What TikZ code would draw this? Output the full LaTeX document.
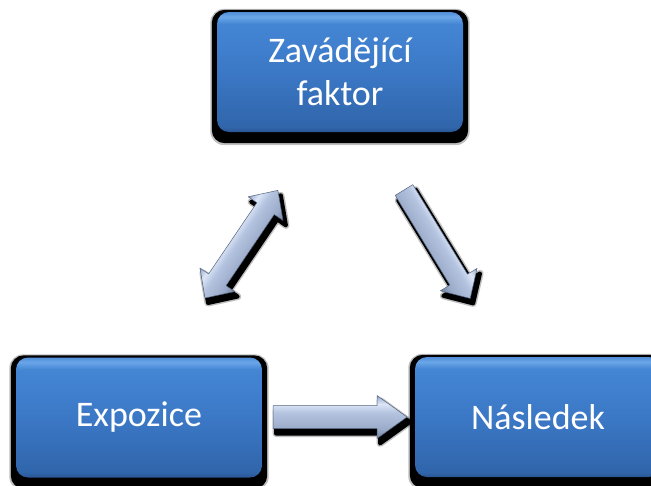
\documentclass[tikz,border=0pt]{standalone}
\usepackage{fontspec}
\setmainfont{Carlito}
\usetikzlibrary{calc}
\definecolor{bf1}{HTML}{2A5592}
\definecolor{bf2}{HTML}{3065AA}
\definecolor{bf3}{HTML}{3B78C6}
\definecolor{bf4}{HTML}{4486D4}
\definecolor{bf5}{HTML}{6AA6E8}
\definecolor{bf6}{HTML}{4F8DD8}
\definecolor{af1}{HTML}{7283A2}
\definecolor{af2}{HTML}{9AABC9}
\definecolor{af3}{HTML}{B4C3DF}
\definecolor{af4}{HTML}{DCE6F7}
\definecolor{af5}{HTML}{B3C2DD}
\definecolor{af6}{HTML}{7F90AF}
\definecolor{aedge}{HTML}{56647F}
\pgfdeclareverticalshading{boxface}{100bp}{color(0bp)=(bf1); color(25bp)=(bf1); color(27bp)=(bf2); color(50bp)=(bf3); color(70bp)=(bf4); color(73bp)=(bf5); color(75bp)=(bf6); color(100bp)=(bf6)}
\pgfdeclareverticalshading{arrowface}{100bp}{color(0bp)=(af1); color(25bp)=(af1); color(36bp)=(af2); color(55bp)=(af3); color(65bp)=(af4); color(71bp)=(af5); color(75bp)=(af6); color(100bp)=(af6)}
\pgfdeclarelayer{bg}
\pgfsetlayers{bg,main}
\newcommand\sglpath[4]{(0,-#2) -- (#1-#4,-#2) -- (#1-#4,-#3) -- (#1,0) -- (#1-#4,#3) -- (#1-#4,#2) -- (0,#2) -- cycle}
\newcommand\dblpath[4]{(0,0) -- (#4,-#3) -- (#4,-#2) -- (#1-#4,-#2) -- (#1-#4,-#3) -- (#1,0) -- (#1-#4,#3) -- (#1-#4,#2) -- (#4,#2) -- (#4,#3) -- cycle}
\newcommand\fancyarrow[7]{%
  \begin{scope}[transform canvas={shift={($(#1)+(3,5)$)},rotate=#2}]
    \filldraw[black,opacity=.25,line width=7pt,line join=round] #7{#3}{#4}{#5}{#6};
    \filldraw[black,line width=4pt,line join=round] #7{#3}{#4}{#5}{#6};
  \end{scope}
  \begin{scope}[transform canvas={shift={(#1)},rotate=#2}]
    \shade[arrfill] #7{#3}{#4}{#5}{#6};
  \end{scope}}
\tikzset{
  box/.style={shade, shading=boxface, rounded corners=12pt, minimum width=246pt,
    minimum height=120pt, text=white, font=\fontsize{36}{43}\selectfont,
    align=center, inner sep=0pt},
  arrfill/.style={shade, shading=arrowface, draw=aedge, line width=.5pt, line join=round},
  shadowsoft/.style={fill=black, opacity=.25, rounded corners=14pt},
  shadowhard/.style={fill=black, rounded corners=13pt}
}
\begin{document}
\begin{tikzpicture}[x=1pt,y=-1pt]
\useasboundingbox (0,0) rectangle (651,485);
\node[box] (zf) at (340,72) {Zavádějící\\faktor};
\node[box] (ex) at (139,417.5) {Expozice};
\node[box] (na) at (538,417) {Následek};
\begin{pgfonlayer}{bg}
  \fill[white] (0,0) rectangle (651,485);
  \foreach \n in {zf,ex,na} {
    \fill[shadowsoft] ($(\n.north west)+(-6.5,-3)$) rectangle ($(\n.south east)+(6.5,13)$);
    \fill[shadowhard] ($(\n.north west)+(-5,-2)$) rectangle ($(\n.south east)+(5,11)$);
  }
\end{pgfonlayer}
\coordinate (da) at (205,298);
\coordinate (sa) at (404,190);
\coordinate (ha) at (273,417);
\fancyarrow{da}{55.9}{130}{10.5}{21}{22}{\dblpath}
\fancyarrow{sa}{-58.6}{127}{10.3}{21.5}{22}{\sglpath}
\fancyarrow{ha}{0}{134}{11.5}{21.5}{30}{\sglpath}
\end{tikzpicture}
\end{document}
